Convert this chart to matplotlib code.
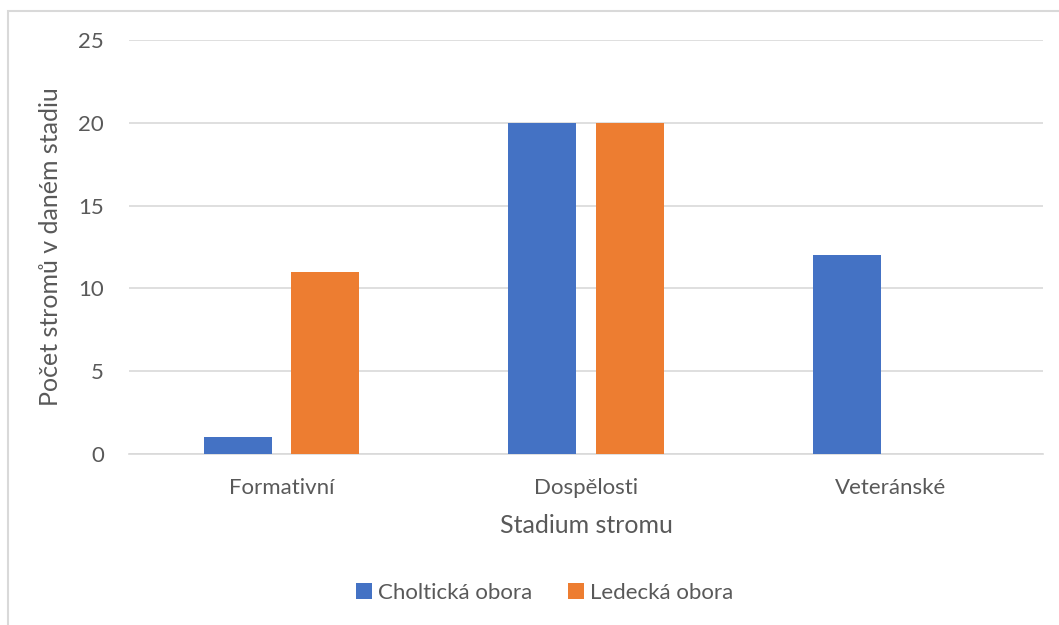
import numpy as np
import matplotlib.pyplot as plt
from matplotlib.patches import Rectangle

plt.rc('font', family=['Lato', 'DejaVu Sans'], size=16)

categories = ['Formativní', 'Dospělosti', 'Veteránské']
cholticka = [1, 20, 12]
ledecka = [11, 20, 0]
series_names = ['Choltická obora', 'Ledecká obora']
yticks = [0, 5, 10, 15, 20, 25]

blue = '#4472C4'
orange = '#ED7D31'
text_col = '#595959'
grid_col = '#D9D9D9'

fig = plt.figure(figsize=(10.59, 6.25), dpi=100)
fig.patches.append(Rectangle((8/1059, -0.1), 1.2, (625-11)/625 + 0.1,
                             transform=fig.transFigure, fill=False,
                             edgecolor=grid_col, linewidth=1.5))

ax = fig.add_axes([129/1059, 1-454/625, (1043-129)/1059, (454-40)/625])
x = np.arange(len(categories))
w = 0.223
off = 0.143
ax.bar(x - off, cholticka, w, color=blue, label=series_names[0], zorder=3)
ax.bar(x + off, ledecka, w, color=orange, label=series_names[1], zorder=3)

ax.set_xlim(-0.5, 2.5)
ax.set_ylim(0, 25)
ax.set_yticks(yticks)
ax.set_xticks(x)
ax.set_xticklabels(categories)
ax.yaxis.grid(True, color=grid_col, linewidth=1.2)
ax.tick_params(length=0, colors=text_col, labelsize=16)
ax.tick_params(axis='x', pad=17)
ax.tick_params(axis='y', pad=18)
for s in ['top', 'right', 'left']:
    ax.spines[s].set_visible(False)
ax.spines['bottom'].set_color(grid_col)
ax.spines['bottom'].set_linewidth(1.2)

ax.set_xlabel('Stadium stromu', color=text_col, fontsize=18, labelpad=12)
ax.set_ylabel('Počet stromů v daném stadiu', color=text_col, fontsize=18, labelpad=12)

leg = ax.legend(loc='center', bbox_to_anchor=(545/1059, 1-593/625),
                bbox_transform=fig.transFigure, ncol=2, frameon=False,
                fontsize=16, handlelength=0.7, handleheight=0.7,
                handletextpad=0.3, columnspacing=1.6)
for t in leg.get_texts():
    t.set_color(text_col)

plt.savefig('out.png', dpi=100)
